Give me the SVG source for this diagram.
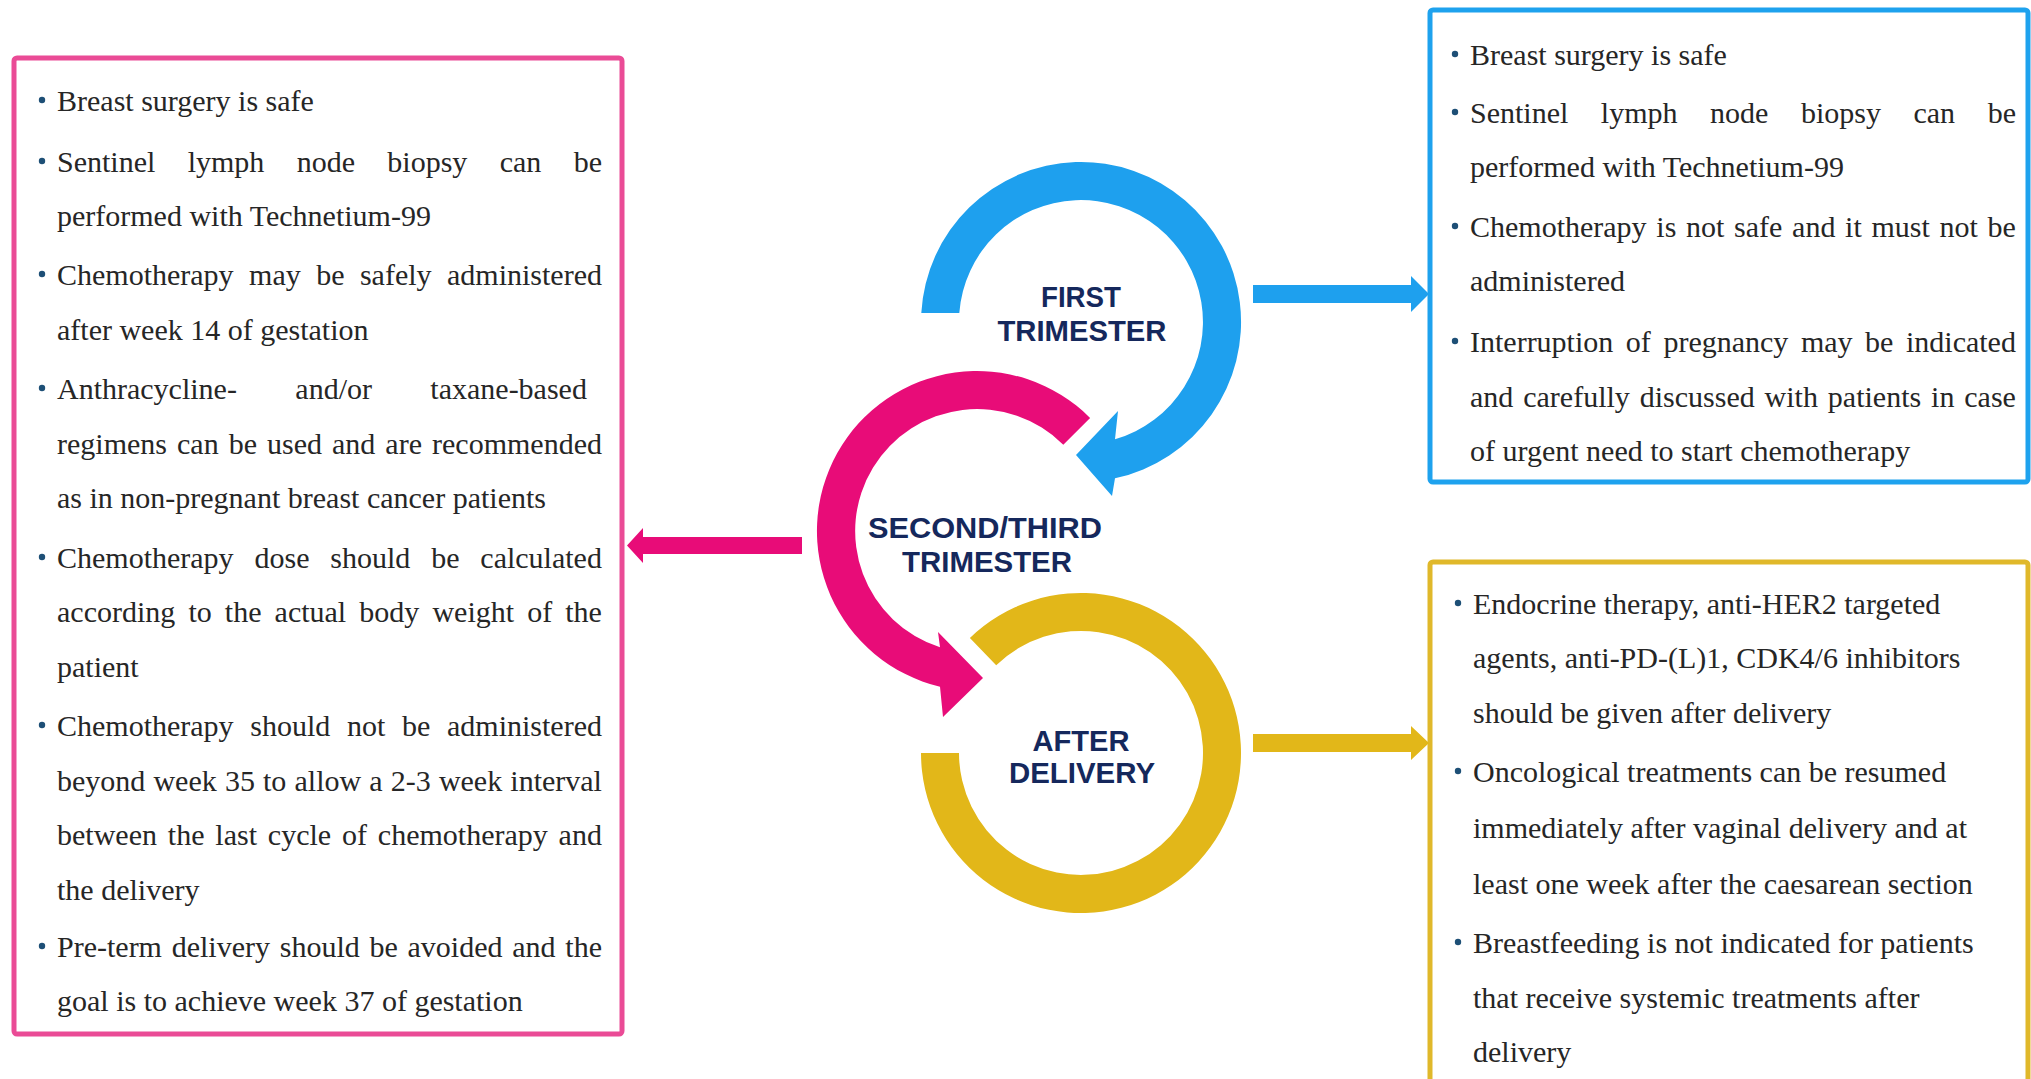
<svg xmlns="http://www.w3.org/2000/svg" width="2031" height="1079" viewBox="0 0 2031 1079">
<style>
.body{font-family:"Liberation Serif","Times New Roman",serif;font-size:30px;fill:#262626}
.lbl{font-family:"Liberation Sans",Arial,sans-serif;font-size:29px;font-weight:bold;fill:#15285c;text-anchor:middle}
.bul{fill:#1d4f76}
.box{fill:#ffffff;stroke-width:5}
</style>
<rect width="2031" height="1079" fill="#ffffff"/>

<g id="box-second-third">
<rect class="box" x="14" y="58" width="608" height="976" rx="3" stroke="#ea4b96"/>
<circle class="bul" cx="42" cy="100" r="3.2"/>
<circle class="bul" cx="42" cy="161" r="3.2"/>
<circle class="bul" cx="42" cy="274" r="3.2"/>
<circle class="bul" cx="42" cy="388" r="3.2"/>
<circle class="bul" cx="42" cy="557" r="3.2"/>
<circle class="bul" cx="42" cy="725" r="3.2"/>
<circle class="bul" cx="42" cy="946" r="3.2"/>
<text class="body" x="57" y="111">Breast surgery is safe</text>
<text class="body" x="57" y="172" word-spacing="24.84">Sentinel lymph node biopsy can be</text>
<text class="body" x="57" y="226">performed with Technetium-99</text>
<text class="body" x="57" y="285" word-spacing="7.95">Chemotherapy may be safely administered</text>
<text class="body" x="57" y="340">after week 14 of gestation</text>
<text class="body" x="57" y="399" word-spacing="50.9">Anthracycline- and/or taxane-based</text>
<text class="body" x="57" y="454" word-spacing="2.53">regimens can be used and are recommended</text>
<text class="body" x="57" y="508">as in non-pregnant breast cancer patients</text>
<text class="body" x="57" y="568" word-spacing="13.35">Chemotherapy dose should be calculated</text>
<text class="body" x="57" y="622" word-spacing="5.61">according to the actual body weight of the</text>
<text class="body" x="57" y="677">patient</text>
<text class="body" x="57" y="736" word-spacing="9.18">Chemotherapy should not be administered</text>
<text class="body" x="57" y="791" word-spacing="0.64">beyond week 35 to allow a 2-3 week interval</text>
<text class="body" x="57" y="845" word-spacing="3.36">between the last cycle of chemotherapy and</text>
<text class="body" x="57" y="900">the delivery</text>
<text class="body" x="57" y="957" word-spacing="2.24">Pre-term delivery should be avoided and the</text>
<text class="body" x="57" y="1011">goal is to achieve week 37 of gestation</text>
</g>

<g id="box-first">
<rect class="box" x="1430" y="10" width="598" height="472" rx="3" stroke="#1ea2ee"/>
<circle class="bul" cx="1455" cy="54" r="3.2"/>
<circle class="bul" cx="1455" cy="112" r="3.2"/>
<circle class="bul" cx="1455" cy="226" r="3.2"/>
<circle class="bul" cx="1455" cy="341" r="3.2"/>
<text class="body" x="1470" y="65">Breast surgery is safe</text>
<text class="body" x="1470" y="123" word-spacing="25.04">Sentinel lymph node biopsy can be</text>
<text class="body" x="1470" y="177">performed with Technetium-99</text>
<text class="body" x="1470" y="237" word-spacing="2.21">Chemotherapy is not safe and it must not be</text>
<text class="body" x="1470" y="291">administered</text>
<text class="body" x="1470" y="352" word-spacing="5.06">Interruption of pregnancy may be indicated</text>
<text class="body" x="1470" y="407" word-spacing="2.4">and carefully discussed with patients in case</text>
<text class="body" x="1470" y="461">of urgent need to start chemotherapy</text>
</g>

<g id="box-after">
<rect class="box" x="1430" y="562" width="598" height="540" rx="3" stroke="#e0b82a"/>
<circle class="bul" cx="1458" cy="603" r="3.2"/>
<circle class="bul" cx="1458" cy="771" r="3.2"/>
<circle class="bul" cx="1458" cy="942" r="3.2"/>
<text class="body" x="1473" y="614">Endocrine therapy, anti-HER2 targeted</text>
<text class="body" x="1473" y="668">agents, anti-PD-(L)1, CDK4/6 inhibitors</text>
<text class="body" x="1473" y="723">should be given after delivery</text>
<text class="body" x="1473" y="782">Oncological treatments can be resumed</text>
<text class="body" x="1473" y="838">immediately after vaginal delivery and at</text>
<text class="body" x="1473" y="894">least one week after the caesarean section</text>
<text class="body" x="1473" y="953">Breastfeeding is not indicated for patients</text>
<text class="body" x="1473" y="1008">that receive systemic treatments after</text>
<text class="body" x="1473" y="1062">delivery</text>
</g>

<g id="node-first-trimester">
<path d="M 921.3 313 A 160 160 0 1 1 1115 478.3 L 1112 496 L 1076 455 L 1118 411 L 1115 439.2 A 122 122 0 1 0 959.3 313 Z" fill="#1ea0ee"/>
<text class="lbl" x="1081" y="307" textLength="80" lengthAdjust="spacingAndGlyphs">FIRST</text>
<text class="lbl" x="1082" y="341" textLength="169" lengthAdjust="spacingAndGlyphs">TRIMESTER</text>
</g>

<g id="node-second-third-trimester">
<path d="M 1090.1 417.9 A 160 160 0 1 0 940 686.7 L 943 717 L 983 678 L 938 632 L 940 647.3 A 122 122 0 1 1 1063.3 444.7 Z" fill="#e80c78"/>
<text class="lbl" x="985" y="538" textLength="234" lengthAdjust="spacingAndGlyphs">SECOND/THIRD</text>
<text class="lbl" x="987" y="572" textLength="170" lengthAdjust="spacingAndGlyphs">TRIMESTER</text>
</g>

<g id="node-after-delivery">
<path d="M 921 753 A 160 160 0 1 0 969.9 637.9 L 996.2 665.2 A 122 122 0 1 1 959 753 Z" fill="#e2b719"/>
<text class="lbl" x="1081" y="751" textLength="97" lengthAdjust="spacingAndGlyphs">AFTER</text>
<text class="lbl" x="1082" y="783" textLength="146" lengthAdjust="spacingAndGlyphs">DELIVERY</text>
</g>

<g id="connectors">
<polygon points="1253,285 1411,285 1411,276 1429,294 1411,312 1411,303 1253,303" fill="#1ea0ee"/>
<polygon points="802,537 643,537 643,528 627,545.5 643,563 643,554 802,554" fill="#e80c78"/>
<polygon points="1253,734 1411,734 1411,726 1429,743 1411,760 1411,752 1253,752" fill="#e2b719"/>
</g>
</svg>
